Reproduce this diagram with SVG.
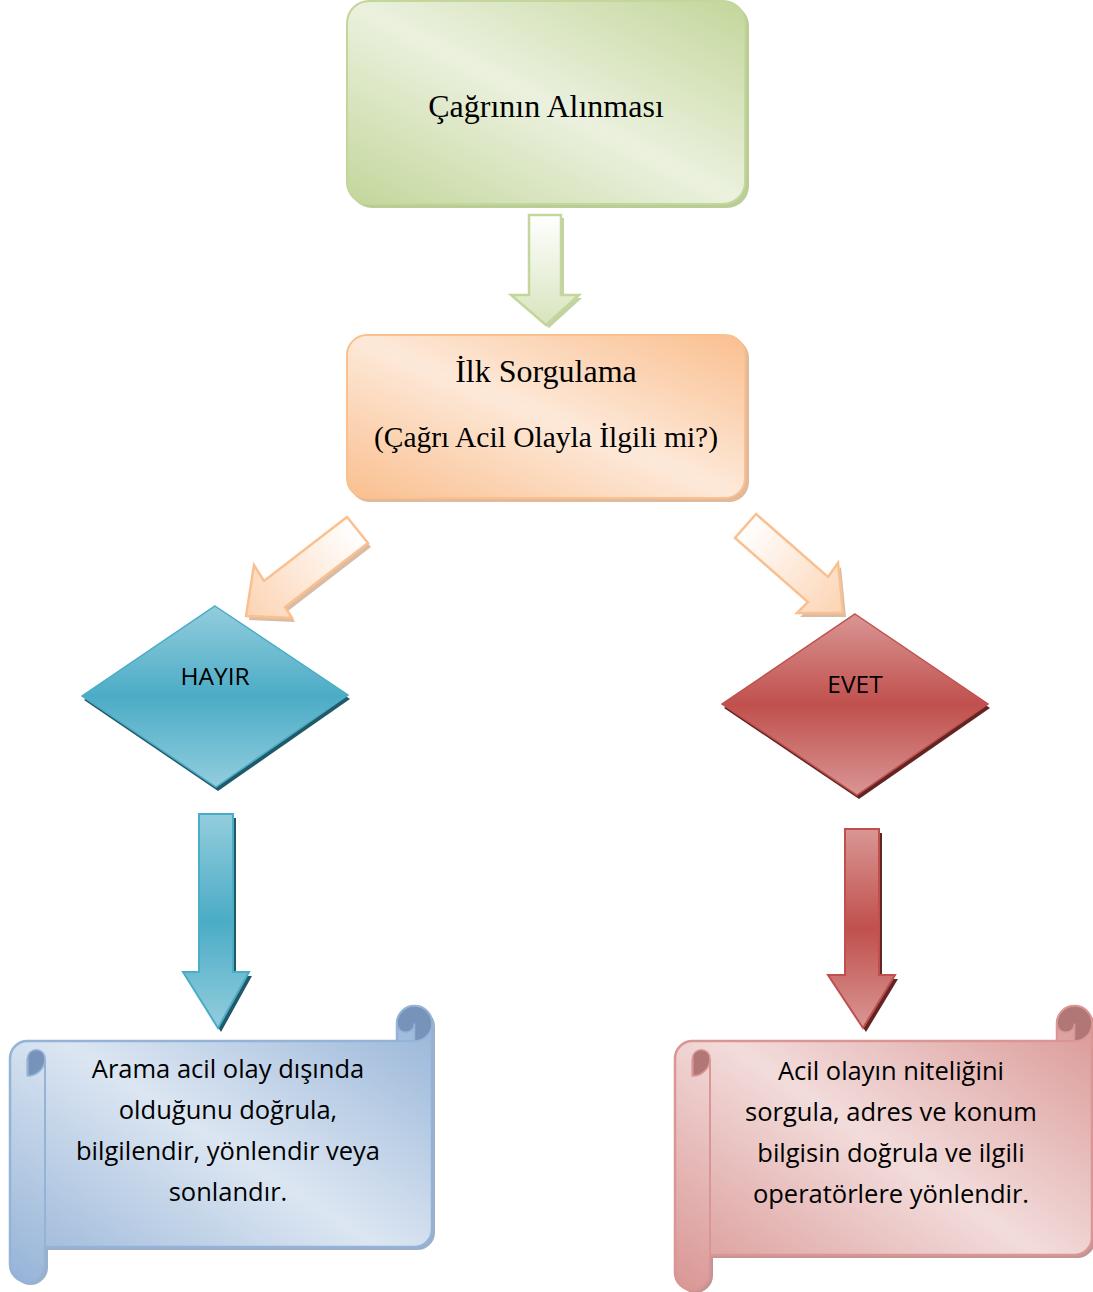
<svg xmlns="http://www.w3.org/2000/svg" width="1093" height="1292" viewBox="0 0 1093 1292">
<defs>
<linearGradient id="gGreen" x1="1" y1="0" x2="0" y2="1"><stop offset="0" stop-color="#c3d69b"/><stop offset="0.5" stop-color="#ebf1de"/><stop offset="1" stop-color="#c3d69b"/></linearGradient>
<linearGradient id="gOrange" x1="1" y1="0" x2="0" y2="1"><stop offset="0" stop-color="#fabf8f"/><stop offset="0.5" stop-color="#fde9d9"/><stop offset="1" stop-color="#fabf8f"/></linearGradient>
<linearGradient id="gBlueScroll" x1="1" y1="0" x2="0" y2="1"><stop offset="0" stop-color="#95b3d7"/><stop offset="0.5" stop-color="#dce6f2"/><stop offset="1" stop-color="#95b3d7"/></linearGradient>
<linearGradient id="gRedScroll" x1="1" y1="0" x2="0" y2="1"><stop offset="0" stop-color="#d99694"/><stop offset="0.5" stop-color="#f2dcdb"/><stop offset="1" stop-color="#d99694"/></linearGradient>
<linearGradient id="gTeal" x1="0" y1="0" x2="0" y2="1"><stop offset="0" stop-color="#93cddd"/><stop offset="0.5" stop-color="#4bacc6"/><stop offset="1" stop-color="#93cddd"/></linearGradient>
<linearGradient id="gRed" x1="0" y1="0" x2="0" y2="1"><stop offset="0" stop-color="#d99694"/><stop offset="0.5" stop-color="#c0504d"/><stop offset="1" stop-color="#d99694"/></linearGradient>
<linearGradient id="gGreenArrow" x1="0" y1="0" x2="0" y2="1"><stop offset="0" stop-color="#ffffff"/><stop offset="1" stop-color="#d7e4bd"/></linearGradient>
<linearGradient id="gOrArrowL" gradientUnits="userSpaceOnUse" x1="357" y1="530" x2="250" y2="612"><stop offset="0" stop-color="#ffffff"/><stop offset="1" stop-color="#fcd5b5"/></linearGradient>
<linearGradient id="gOrArrowR" gradientUnits="userSpaceOnUse" x1="745" y1="526" x2="840" y2="610"><stop offset="0" stop-color="#ffffff"/><stop offset="1" stop-color="#fcd5b5"/></linearGradient>
</defs>
<style>
.serif{font-family:"Liberation Serif","Times New Roman",serif;fill:#000;text-anchor:middle}
.sans{font-family:"Open Sans",Lato,sans-serif;fill:#000;text-anchor:middle}
.scroll{font-size:25.5px}
</style>

<g id="connectors">
  <g id="arrow-green">
    <polygon points="532,218 564,218 564,298 582,298 549,328 514,298 532,298" fill="#a8bf7c" opacity="0.7"/>
    <polygon points="529,215 561,215 561,295 579,295 546,325 511,295 529,295" fill="url(#gGreenArrow)" stroke="#c3d69b" stroke-width="2.5" stroke-linejoin="miter"/>
  </g>
  <g id="arrow-hayir">
    <polygon points="350,521 371,547 288,611 295,622 249,620 257,569 267,585" fill="#c89f80" opacity="0.7"/>
    <polygon points="347,517 368,543 285,607 292,618 246,616 254,565 264,581" fill="url(#gOrArrowL)" stroke="#fac08f" stroke-width="2.5"/>
  </g>
  <g id="arrow-evet">
    <polygon points="759,518 738,542 811,606 800,617 846,617 841,567 831,581" fill="#c89f80" opacity="0.7"/>
    <polygon points="756,514 735,538 808,602 797,613 843,613 838,563 828,577" fill="url(#gOrArrowR)" stroke="#fac08f" stroke-width="2.5"/>
  </g>
  <g id="arrow-blue">
    <polygon points="202,818 236,818 236,976 252,976 221,1032 186,976 202,976" fill="#215968"/>
    <polygon points="199,814 233,814 233,972 249,972 218,1028 183,972 199,972" fill="url(#gTeal)" stroke="#4bacc6" stroke-width="2"/>
  </g>
  <g id="arrow-red">
    <polygon points="848,833 882,833 882,979 898,979 866,1032 831,979 848,979" fill="#632523"/>
    <polygon points="845,829 879,829 879,975 895,975 863,1028 828,975 845,975" fill="url(#gRed)" stroke="#c0504d" stroke-width="2"/>
  </g>
</g>

<g id="node-cagri">
  <rect x="350" y="4" width="399" height="204" rx="22" fill="#a3bc72" opacity="0.75"/>
  <rect x="347" y="1" width="398" height="203" rx="22" fill="url(#gGreen)" stroke="#c3d69b" stroke-width="2"/>
  <text class="serif" x="546" y="117" font-size="32">Çağrının Alınması</text>
</g>

<g id="node-sorgulama">
  <rect x="350" y="338" width="399" height="164" rx="20" fill="#d49c70" opacity="0.7"/>
  <rect x="347" y="335" width="398" height="163" rx="20" fill="url(#gOrange)" stroke="#fac08f" stroke-width="2"/>
  <text class="serif" x="546" y="382" font-size="32">İlk Sorgulama</text>
  <text class="serif" x="546" y="447" font-size="29.5">(Çağrı Acil Olayla İlgili mi?)</text>
</g>

<g id="node-hayir">
  <polygon points="217,610 350,699 218,791 84,700" fill="#215968"/>
  <polygon points="215,606 348,695 216,787 82,696" fill="url(#gTeal)" stroke="#4bacc6" stroke-width="1.5"/>
  <text class="sans" x="215" y="685" font-size="24.5">HAYIR</text>
</g>

<g id="node-evet">
  <polygon points="857,618 990,708 859,799 724,708" fill="#632523"/>
  <polygon points="855,614 988,704 857,795 722,704" fill="url(#gRed)" stroke="#c0504d" stroke-width="1.5"/>
  <text class="sans" x="855" y="693" font-size="24.5">EVET</text>
</g>

<g id="node-hayir-scroll">
  <path transform="translate(3,3)" d="M10 1058.5A17.5 17.5 0 0 1 27.5 1041L397 1041L397 1023.5A17.5 17.5 0 0 1 432 1023.5L432 1229.5A17.5 17.5 0 0 1 414.5 1247L45 1247L45 1264.5A17.5 17.5 0 0 1 27.5 1282A17.5 17.5 0 0 1 10 1264.5Z" fill="#7a94b8" opacity="0.75"/>
  <path d="M10 1058.5A17.5 17.5 0 0 1 27.5 1041L397 1041L397 1023.5A17.5 17.5 0 0 1 432 1023.5L432 1229.5A17.5 17.5 0 0 1 414.5 1247L45 1247L45 1264.5A17.5 17.5 0 0 1 27.5 1282A17.5 17.5 0 0 1 10 1264.5Z" fill="url(#gBlueScroll)" stroke="#95b3d7" stroke-width="2.5"/>
  <path d="M397 1023.5A17.5 17.5 0 0 1 432 1023.5A17.5 17.5 0 0 1 414.5 1041L414.5 1023.5A8.75 8.75 0 0 1 397 1023.5Z" fill="#7893ba" stroke="#95b3d7" stroke-width="1.5"/>
  <path d="M27.5 1058.5A8.75 8.75 0 0 1 45 1058.5A17.5 17.5 0 0 1 27.5 1076Z" fill="#7893ba" stroke="#95b3d7" stroke-width="1.5"/>
  <path d="M27.5 1076L27.5 1058.5M45 1058.5L45 1247M397 1041L414.5 1041" fill="none" stroke="#95b3d7" stroke-width="2"/>
  <text class="sans scroll" x="228" y="1078">Arama acil olay dışında</text>
  <text class="sans scroll" x="228" y="1119">olduğunu doğrula,</text>
  <text class="sans scroll" x="228" y="1160">bilgilendir, yönlendir veya</text>
  <text class="sans scroll" x="228" y="1201">sonlandır.</text>
</g>

<g id="node-evet-scroll">
  <path transform="translate(3,3)" d="M675 1058.5A17.5 17.5 0 0 1 692.5 1041L1057 1041L1057 1023.5A17.5 17.5 0 0 1 1092 1023.5L1092 1237.5A17.5 17.5 0 0 1 1074.5 1255L710 1255L710 1272.5A17.5 17.5 0 0 1 692.5 1290A17.5 17.5 0 0 1 675 1272.5Z" fill="#a86866" opacity="0.7"/>
  <path d="M675 1058.5A17.5 17.5 0 0 1 692.5 1041L1057 1041L1057 1023.5A17.5 17.5 0 0 1 1092 1023.5L1092 1237.5A17.5 17.5 0 0 1 1074.5 1255L710 1255L710 1272.5A17.5 17.5 0 0 1 692.5 1290A17.5 17.5 0 0 1 675 1272.5Z" fill="url(#gRedScroll)" stroke="#d99694" stroke-width="2.5"/>
  <path d="M1057 1023.5A17.5 17.5 0 0 1 1092 1023.5A17.5 17.5 0 0 1 1074.5 1041L1074.5 1023.5A8.75 8.75 0 0 1 1057 1023.5Z" fill="#b17776" stroke="#d99694" stroke-width="1.5"/>
  <path d="M692.5 1058.5A8.75 8.75 0 0 1 710 1058.5A17.5 17.5 0 0 1 692.5 1076Z" fill="#b17776" stroke="#d99694" stroke-width="1.5"/>
  <path d="M692.5 1076L692.5 1058.5M710 1058.5L710 1255M1057 1041L1074.5 1041" fill="none" stroke="#d99694" stroke-width="2"/>
  <text class="sans scroll" x="891" y="1080">Acil olayın niteliğini</text>
  <text class="sans scroll" x="891" y="1121">sorgula, adres ve konum</text>
  <text class="sans scroll" x="891" y="1162">bilgisin doğrula ve ilgili</text>
  <text class="sans scroll" x="891" y="1203">operatörlere yönlendir.</text>
</g>
</svg>
